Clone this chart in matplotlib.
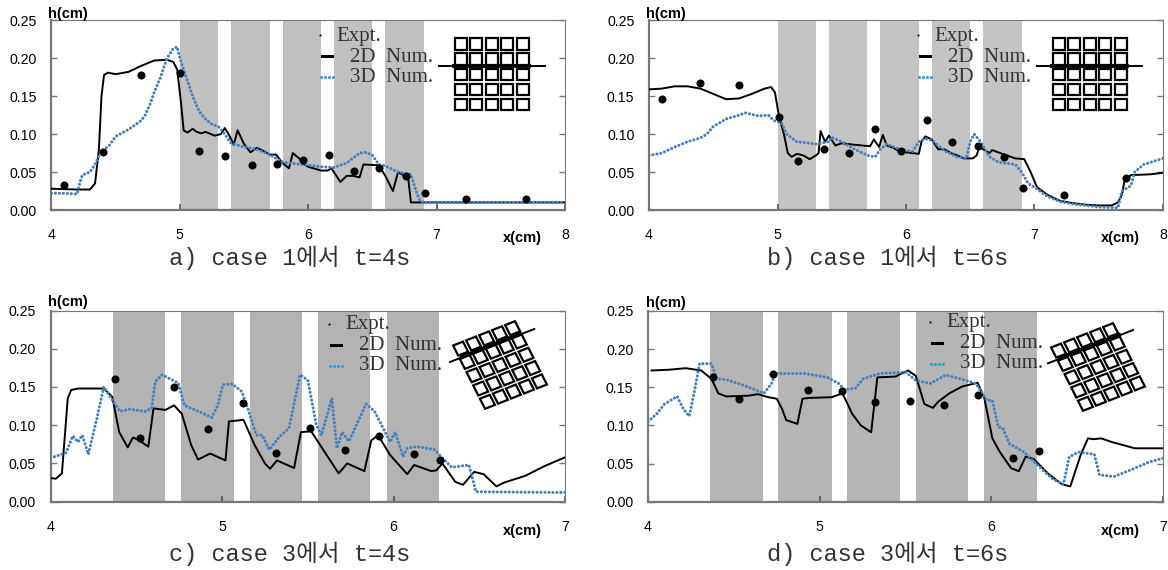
#!/usr/bin/env python3
"""Water depth h(x) in the street network: experiment, 2D and 3D models, four panels."""

import numpy as np
import matplotlib
matplotlib.use("Agg")
import matplotlib.pyplot as plt
from matplotlib.patches import Polygon

W, H = 1168, 570

# ------------------------------- data ------------------------------- #
a_exp_x = [4.1, 4.4, 4.7, 5.0, 5.15, 5.35, 5.56, 5.76, 5.96, 6.16, 6.36, 6.55, 6.76, 6.91, 7.23, 7.7]
a_exp_h = [0.033, 0.076, 0.178, 0.18, 0.078, 0.071, 0.059, 0.061, 0.066, 0.072, 0.052, 0.056, 0.045, 0.022, 0.015, 0.015]
a_2d_x = [4, 4.2, 4.3, 4.34, 4.37, 4.39, 4.41, 4.44, 4.5, 4.6, 4.7, 4.8, 4.9, 4.95, 4.98, 5.01, 5.03, 5.06, 5.1,
          5.13, 5.17, 5.2, 5.27, 5.32, 5.35, 5.38, 5.42, 5.45, 5.5, 5.55, 5.6, 5.65, 5.7, 5.75, 5.8, 5.85, 5.88,
          5.93, 5.97, 6, 6.1, 6.15, 6.18, 6.2, 6.25, 6.3, 6.35, 6.4, 6.43, 6.55, 6.6, 6.66, 6.7, 6.75, 6.78, 6.8, 8]
a_2d_h = [0.028, 0.027, 0.027, 0.035, 0.08, 0.15, 0.178, 0.181, 0.179, 0.182, 0.19, 0.197, 0.198, 0.195, 0.185,
          0.14, 0.105, 0.102, 0.107, 0.103, 0.101, 0.103, 0.098, 0.1, 0.108, 0.1, 0.086, 0.105, 0.087, 0.076,
          0.082, 0.078, 0.073, 0.073, 0.062, 0.055, 0.075, 0.068, 0.06, 0.057, 0.052, 0.052, 0.055, 0.05, 0.037,
          0.045, 0.045, 0.043, 0.06, 0.059, 0.045, 0.025, 0.05, 0.045, 0.04, 0.01, 0.01]
a_3d_x = [4, 4.1, 4.2, 4.22, 4.24, 4.3, 4.34, 4.38, 4.45, 4.5, 4.6, 4.7, 4.73, 4.77, 4.8, 4.85, 4.9, 4.95, 4.98,
          5.0, 5.05, 5.1, 5.15, 5.2, 5.25, 5.3, 5.35, 5.4, 5.5, 5.6, 5.7, 5.8, 5.9, 6, 6.1, 6.2, 6.3, 6.4, 6.45,
          6.5, 6.55, 6.6, 6.7, 6.8, 6.83, 6.87, 6.9, 8]
a_3d_h = [0.022, 0.022, 0.021, 0.035, 0.046, 0.05, 0.06, 0.075, 0.085, 0.097, 0.106, 0.118, 0.125, 0.14, 0.155,
          0.175, 0.2, 0.213, 0.215, 0.2, 0.175, 0.15, 0.13, 0.12, 0.113, 0.11, 0.1, 0.088, 0.083, 0.08, 0.073,
          0.063, 0.061, 0.059, 0.057, 0.056, 0.062, 0.075, 0.076, 0.072, 0.06, 0.058, 0.05, 0.047, 0.03, 0.012, 0.01, 0.01]

b_exp_x = [4.1, 4.4, 4.7, 5.01, 5.16, 5.36, 5.56, 5.76, 5.96, 6.16, 6.36, 6.56, 6.76, 6.91, 7.23, 7.71]
b_exp_h = [0.146, 0.167, 0.165, 0.123, 0.065, 0.081, 0.075, 0.107, 0.078, 0.118, 0.09, 0.085, 0.07, 0.029, 0.02, 0.042]
b_2d_x = [4, 4.1, 4.2, 4.3, 4.4, 4.5, 4.6, 4.7, 4.8, 4.9, 4.95, 4.98, 5.01, 5.05, 5.08, 5.11, 5.15, 5.2, 5.25,
          5.3, 5.32, 5.335, 5.37, 5.4, 5.45, 5.5, 5.6, 5.72, 5.75, 5.79, 5.82, 5.85, 5.9, 5.95, 6, 6.1, 6.12,
          6.15, 6.2, 6.25, 6.3, 6.35, 6.4, 6.45, 6.52, 6.55, 6.57, 6.6, 6.65, 6.67, 6.75, 6.85, 6.92, 6.97, 7.02,
          7.1, 7.2, 7.3, 7.4, 7.5, 7.6, 7.65, 7.68, 7.7, 7.75, 7.9, 8]
b_2d_h = [0.159, 0.16, 0.163, 0.163, 0.16, 0.153, 0.146, 0.147, 0.153, 0.16, 0.162, 0.155, 0.125, 0.1, 0.075, 0.07,
          0.074, 0.072, 0.067, 0.072, 0.075, 0.104, 0.09, 0.098, 0.085, 0.088, 0.086, 0.084, 0.093, 0.083, 0.099,
          0.085, 0.082, 0.077, 0.076, 0.074, 0.09, 0.097, 0.093, 0.08, 0.08, 0.075, 0.072, 0.068, 0.068, 0.072,
          0.083, 0.08, 0.075, 0.079, 0.074, 0.068, 0.067, 0.05, 0.03, 0.02, 0.012, 0.009, 0.007, 0.006, 0.006,
          0.01, 0.02, 0.038, 0.046, 0.047, 0.049]
b_3d_x = [4, 4.1, 4.2, 4.3, 4.4, 4.45, 4.5, 4.6, 4.7, 4.75, 4.85, 4.93, 4.97, 5.03, 5.07, 5.15, 5.3, 5.4, 5.42, 5.5,
          5.6, 5.7, 5.76, 5.8, 5.85, 5.95, 6.05, 6.1, 6.15, 6.2, 6.3, 6.4, 6.47, 6.5, 6.53, 6.58, 6.65, 6.72, 6.85,
          6.9, 6.95, 7, 7.1, 7.2, 7.3, 7.5, 7.65, 7.68, 7.75, 7.78, 7.85, 8]
b_3d_h = [0.072, 0.075, 0.083, 0.09, 0.095, 0.1, 0.11, 0.12, 0.125, 0.128, 0.124, 0.125, 0.118, 0.115, 0.1, 0.09,
          0.087, 0.09, 0.096, 0.09, 0.08, 0.072, 0.07, 0.08, 0.087, 0.08, 0.077, 0.09, 0.094, 0.092, 0.078, 0.07,
          0.068, 0.09, 0.1, 0.09, 0.07, 0.063, 0.06, 0.05, 0.035, 0.03, 0.018, 0.011, 0.008, 0.004, 0.003, 0.025,
          0.032, 0.05, 0.06, 0.068]

c_exp_x = [4.374, 4.52, 4.72, 4.92, 5.12, 5.315, 5.515, 5.716, 5.915, 6.117, 6.27]
c_exp_h = [0.16, 0.083, 0.15, 0.095, 0.129, 0.064, 0.097, 0.067, 0.086, 0.062, 0.054]
c_2d_x = [4, 4.03, 4.066, 4.1, 4.12, 4.16, 4.31, 4.36, 4.4, 4.45, 4.48, 4.51, 4.57, 4.6, 4.67, 4.72, 4.765, 4.82,
          4.86, 4.93, 5.02, 5.04, 5.125, 5.19, 5.25, 5.28, 5.32, 5.42, 5.46, 5.52, 5.61, 5.68, 5.73, 5.83, 5.87,
          5.91, 5.98, 6.08, 6.12, 6.22, 6.25, 6.285, 6.36, 6.405, 6.47, 6.525, 6.6, 6.645, 6.77, 6.875, 7]
c_2d_h = [0.031, 0.03, 0.037, 0.135, 0.146, 0.148, 0.148, 0.137, 0.091, 0.071, 0.084, 0.081, 0.072, 0.122, 0.12,
          0.126, 0.115, 0.074, 0.055, 0.063, 0.054, 0.105, 0.107, 0.074, 0.05, 0.043, 0.054, 0.044, 0.091, 0.092,
          0.061, 0.037, 0.05, 0.04, 0.08, 0.087, 0.061, 0.036, 0.048, 0.04, 0.041, 0.05, 0.026, 0.022, 0.039,
          0.036, 0.02, 0.025, 0.034, 0.046, 0.058]
c_3d_x = [4, 4.09, 4.13, 4.16, 4.185, 4.22, 4.27, 4.31, 4.36, 4.405, 4.46, 4.55, 4.59, 4.61, 4.65, 4.745, 4.78,
          4.865, 4.94, 4.975, 5.005, 5.06, 5.115, 5.15, 5.2, 5.235, 5.275, 5.335, 5.39, 5.455, 5.5, 5.55, 5.58,
          5.64, 5.67, 5.7, 5.74, 5.84, 5.89, 5.98, 6.01, 6.055, 6.08, 6.14, 6.24, 6.285, 6.34, 6.44, 6.48, 7]
c_3d_h = [0.057, 0.064, 0.086, 0.078, 0.087, 0.062, 0.109, 0.15, 0.133, 0.118, 0.121, 0.118, 0.122, 0.157, 0.166,
          0.155, 0.126, 0.118, 0.11, 0.126, 0.153, 0.154, 0.144, 0.122, 0.087, 0.087, 0.068, 0.085, 0.096, 0.166,
          0.159, 0.1, 0.087, 0.135, 0.07, 0.091, 0.079, 0.128, 0.118, 0.078, 0.091, 0.059, 0.07, 0.072, 0.068,
          0.057, 0.045, 0.048, 0.013, 0.012]

d_exp_x = [4.38, 4.53, 4.73, 4.93, 5.13, 5.323, 5.524, 5.723, 5.924, 6.124, 6.275]
d_exp_h = [0.164, 0.135, 0.168, 0.146, 0.145, 0.131, 0.132, 0.127, 0.14, 0.057, 0.067]
d_2d_x = [4.02, 4.12, 4.22, 4.31, 4.37, 4.41, 4.456, 4.587, 4.64, 4.7, 4.75, 4.78, 4.805, 4.87, 4.9, 4.937, 5.07,
          5.133, 5.19, 5.24, 5.3, 5.336, 5.44, 5.515, 5.56, 5.61, 5.66, 5.69, 5.755, 5.83, 5.92, 5.96, 6.006, 6.05,
          6.115, 6.16, 6.2, 6.247, 6.33, 6.41, 6.46, 6.52, 6.563, 6.596, 6.64, 6.705, 6.836, 6.88, 7]
d_2d_h = [0.172, 0.173, 0.175, 0.172, 0.161, 0.142, 0.138, 0.139, 0.141, 0.137, 0.135, 0.122, 0.107, 0.102, 0.135,
          0.136, 0.137, 0.142, 0.115, 0.1, 0.091, 0.163, 0.164, 0.172, 0.165, 0.128, 0.123, 0.131, 0.142, 0.151,
          0.156, 0.135, 0.083, 0.065, 0.044, 0.04, 0.059, 0.056, 0.037, 0.023, 0.02, 0.061, 0.083, 0.082, 0.083,
          0.078, 0.07, 0.07, 0.07]
d_3d_x = [4, 4.05, 4.096, 4.17, 4.205, 4.24, 4.27, 4.3, 4.37, 4.4, 4.456, 4.565, 4.675, 4.72, 4.74, 4.915, 5.045,
          5.11, 5.144, 5.21, 5.253, 5.35, 5.5, 5.56, 5.646, 5.734, 5.82, 5.91, 5.974, 6.006, 6.04, 6.068, 6.105,
          6.19, 6.27, 6.355, 6.42, 6.454, 6.51, 6.6, 6.63, 6.716, 6.836, 6.92, 7]
d_3d_h = [0.105, 0.115, 0.128, 0.138, 0.122, 0.112, 0.144, 0.181, 0.181, 0.161, 0.16, 0.152, 0.142, 0.155, 0.168,
          0.168, 0.163, 0.155, 0.147, 0.149, 0.161, 0.168, 0.17, 0.159, 0.155, 0.166, 0.161, 0.155, 0.133, 0.133,
          0.098, 0.096, 0.076, 0.065, 0.048, 0.03, 0.023, 0.059, 0.065, 0.062, 0.035, 0.033, 0.044, 0.052, 0.057]

bands_case1 = [(5.0, 5.3), (5.4, 5.7), (5.8, 6.1), (6.2, 6.5), (6.6, 6.9)]
bands_case3 = [(4.363, 4.669), (4.76, 5.07), (5.16, 5.467), (5.56, 5.863), (5.96, 6.265)]
y_ticks = [0.0, 0.05, 0.10, 0.15, 0.20, 0.25]
captions = ["a) case 1에서 t=4s", "b) case 1에서 t=6s", "c) case 3에서 t=4s", "d) case 3에서 t=6s"]
legend_labels = ["Expt.", "2D  Num.", "3D  Num."]
# --------------------------------------------------------------------- #

SERIF = ["Liberation Serif", "Noto Sans CJK KR"]
MONO = ["Liberation Mono", "Noto Sans CJK KR"]
SANS = "Liberation Sans"
BLUE = "#4a7ebb"


def make_axes(fig, left, right, top, bottom):
    ax = fig.add_axes([left / W, 1 - bottom / H, (right - left) / W, (bottom - top) / H])
    return ax


def plot_panel(ax, xmax, bands, band_color, exp, line2d, line3d):
    for x0, x1 in bands:
        ax.axvspan(x0, x1, color=band_color, lw=0, zorder=1)
    ax.plot(*line2d, color="black", lw=1.4, zorder=3)
    ax.plot(*line3d, color=BLUE, lw=2.2, ls=(0, (0.05, 1.25)), dash_capstyle="round", zorder=4)
    ax.plot(*exp, "o", color="black", ms=5.8, mew=0, zorder=5)

    ax.set_xlim(4, xmax)
    ax.set_ylim(0, 0.25)
    ax.set_xticks(range(4, xmax + 1))
    ax.set_yticks(y_ticks)
    ax.set_yticklabels([f"{v:.2f}" for v in y_ticks], family=SANS, fontsize=10.2)
    ax.set_xticklabels([str(v) for v in range(4, xmax + 1)], family=SANS, fontsize=10.2)
    ax.tick_params(axis="x", direction="in", length=4, width=1.2, color="#555555", pad=13)
    ax.tick_params(axis="y", direction="in", length=4, width=1, color="#777777", pad=10.5, right=True)
    for name, spine in ax.spines.items():
        spine.set_color("#777777")
        spine.set_linewidth(1.6 if name in ("left", "bottom") else 0.8)


def draw_legend(ov, x0, y0):
    # x0, y0: pixel position of the Expt. dot
    ov.plot([x0], [y0], "o", color="black", ms=1.5, mew=0)
    ov.plot([x0 + 2, x0 + 12], [y0 + 21, y0 + 21], color="black", lw=2.2)
    ov.plot([x0 + 1, x0 + 13], [y0 + 42, y0 + 42], color="#2f9bd8", lw=2.2, ls=(0, (0.05, 1.25)), dash_capstyle="round")
    ov.text(x0 + 16, y0 + 1, legend_labels[0], family=SERIF, fontsize=15, color="#333333", ha="left", va="center")
    ov.text(x0 + 30, y0 + 22, legend_labels[1], family=SERIF, fontsize=15, color="#333333", ha="left", va="center")
    ov.text(x0 + 30, y0 + 42, legend_labels[2], family=SERIF, fontsize=15, color="#333333", ha="left", va="center")


def draw_block(ov, cx, cy, u, v, line_start, line_end, thick_start, thick_end):
    # u, v: pitch vectors of the 5x5 block grid in pixels
    u = np.asarray(u, dtype=float)
    v = np.asarray(v, dtype=float)
    corners = [(-0.38, -0.38), (0.38, -0.38), (0.38, 0.38), (-0.38, 0.38)]
    for i in range(-2, 3):
        for j in range(-2, 3):
            pts = [np.array([cx, cy]) + (i + a) * u + (j + b) * v for a, b in corners]
            ov.add_patch(Polygon(pts, closed=True, fc="white", ec="black", lw=1.6))
    ov.plot([line_start[0], line_end[0]], [line_start[1], line_end[1]], color="black", lw=1.4)
    ov.plot([thick_start[0], thick_end[0]], [thick_start[1], thick_end[1]], color="black", lw=2.8)


fig = plt.figure(figsize=(W / 100, H / 100), dpi=100)

ax_a = make_axes(fig, 51.4, 565, 20.3, 210)
ax_b = make_axes(fig, 649, 1163, 20.3, 210)
ax_c = make_axes(fig, 50.6, 565, 310.5, 501.7)
ax_d = make_axes(fig, 648, 1163, 311, 501.7)

plot_panel(ax_a, 8, bands_case1, "#c0c0c0", (a_exp_x, a_exp_h), (a_2d_x, a_2d_h), (a_3d_x, a_3d_h))
plot_panel(ax_b, 8, bands_case1, "#c4c4c4", (b_exp_x, b_exp_h), (b_2d_x, b_2d_h), (b_3d_x, b_3d_h))
plot_panel(ax_c, 7, bands_case3, "#b3b3b3", (c_exp_x, c_exp_h), (c_2d_x, c_2d_h), (c_3d_x, c_3d_h))
plot_panel(ax_d, 7, bands_case3, "#b5b5b5", (d_exp_x, d_exp_h), (d_2d_x, d_2d_h), (d_3d_x, d_3d_h))

# overlay in image pixels for captions, hand-placed legends and the block sketches
ov = fig.add_axes([0, 0, 1, 1], zorder=10)
ov.set_xlim(0, W)
ov.set_ylim(H, 0)
ov.axis("off")

for x, y, s in zip([290, 888, 290, 888], [258, 258, 554, 554], captions):
    ov.text(x, y, s, family=MONO, fontsize=17, color="#333333", ha="center", va="center")

for x, y in [(48, 14), (646, 14), (48, 302), (646, 303)]:
    ov.text(x, y, "h(cm)", family=SANS, fontsize=10.5, weight="bold", ha="left", va="center")
for x, y in [(503, 238), (1101, 238), (503, 531), (1101, 531)]:
    ov.text(x, y, "x(cm)", family=SANS, fontsize=10.5, weight="bold", ha="left", va="center")

draw_legend(ov, 320, 35)
draw_legend(ov, 918, 35)
draw_legend(ov, 329, 324)
draw_legend(ov, 930, 322)

draw_block(ov, 491.8, 74.3, (15.6, 0), (0, 15.2), (439, 66.3), (544.5, 66.3), (454, 66.3), (529, 66.3))
draw_block(ov, 1089.8, 74.3, (15.6, 0), (0, 15.2), (1037, 66.3), (1142, 66.3), (1052, 66.3), (1127, 66.3))
draw_block(ov, 500, 365, (13.0, -5.1), (6.7, 13.3), (450, 362), (534.3, 329), (462, 357), (520, 334))
draw_block(ov, 1098, 367, (13.0, -5.1), (6.7, 13.3), (1048, 363.3), (1133, 330), (1060, 358), (1119, 335))

fig.savefig("out.png", dpi=100)
